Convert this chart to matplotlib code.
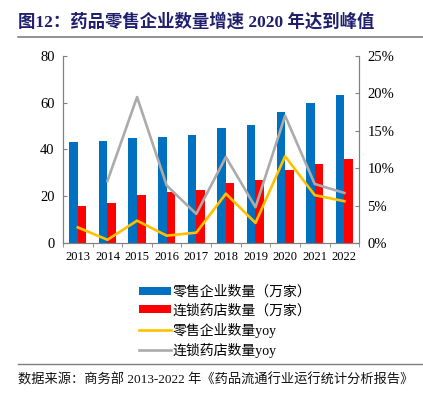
import numpy as np
import matplotlib
matplotlib.use('Agg')
import matplotlib.pyplot as plt
from matplotlib.patches import Patch
from matplotlib.lines import Line2D

plt.rcParams['font.family'] = ['Liberation Serif', 'Noto Sans CJK SC']

years = ['2013', '2014', '2015', '2016', '2017', '2018', '2019', '2020', '2021', '2022']
retail = [43.2, 43.6, 44.9, 45.3, 46.0, 49.0, 50.3, 56.1, 59.8, 63.1]       # 零售企业数量（万家）
chain = [15.8, 17.1, 20.5, 21.9, 22.8, 25.5, 26.8, 31.3, 33.8, 36.0]        # 连锁药店数量（万家）
retail_yoy = [2.1, 0.45, 3.0, 1.0, 1.4, 6.6, 2.7, 11.6, 6.4, 5.6]           # %
chain_yoy = [np.nan, 8.3, 19.5, 7.7, 3.9, 11.5, 4.8, 17.0, 7.9, 6.7]        # %

blue = '#0070C0'
red = '#FF0000'
yellow = '#FFC000'
grey = '#ABABAB'
spine_c = '#808080'

fig = plt.figure(figsize=(4.23, 3.96), dpi=100)
ax = fig.add_axes([0.149, 0.386, 0.700, 0.473])
ax2 = ax.twinx()

x = np.arange(len(years))
w = 0.29
ax.bar(x - w / 2, retail, width=w, color=blue, zorder=2)
ax.bar(x + w / 2, chain, width=w, color=red, zorder=2)

ax2.plot(x, retail_yoy, color=yellow, lw=1.9)
ax2.plot(x, chain_yoy, color=grey, lw=1.9)

ax.set_xlim(-0.5, len(years) - 0.5)
ax.set_ylim(0, 80)
ax.set_yticks([0, 20, 40, 60, 80])
ax2.set_ylim(0, 25)
ax2.set_yticks([0, 5, 10, 15, 20, 25])
ax2.set_yticklabels([f'{v}%' for v in [0, 5, 10, 15, 20, 25]])

ax.set_xticks(x)
ax.set_xticklabels(years)
ax.set_xticks(np.arange(-0.5, len(years), 1), minor=True)
ax.tick_params(axis='x', which='major', length=0, labelsize=9, pad=6)
ax.tick_params(axis='x', which='minor', length=3, direction='out', color=spine_c)
ax.tick_params(axis='y', length=3, direction='in', labelsize=10.5, color=spine_c, pad=6)
ax2.tick_params(axis='y', length=3, direction='in', labelsize=10.5, color=spine_c, pad=6)

for a in (ax, ax2):
    a.spines['top'].set_visible(False)
    for s in ('left', 'right', 'bottom'):
        a.spines[s].set_color(spine_c)

# 图例
handles = [Patch(facecolor=blue), Patch(facecolor=red),
           Line2D([], [], color=yellow, lw=1.9), Line2D([], [], color=grey, lw=1.9)]
labels = ['零售企业数量（万家）', '连锁药店数量（万家）', '零售企业数量yoy', '连锁药店数量yoy']
fig.legend(handles, labels, loc='upper left', bbox_to_anchor=(0.312, 0.297), frameon=False,
           fontsize=10, handlelength=2.3, handleheight=0.5, handletextpad=0.15,
           labelspacing=0.38, borderpad=0)

# 标题 / 来源
fig.text(0.043, 0.945, '图12：药品零售企业数量增速 2020 年达到峰值', fontsize=12.5,
         fontweight='bold', color='#1F1F6E', va='center')
fig.add_artist(Line2D([0.043, 1.0], [0.907, 0.907], color='#7f7f7f', lw=1.2))
fig.add_artist(Line2D([0.043, 1.0], [0.080, 0.080], color='#7f7f7f', lw=1.0))
fig.text(0.043, 0.040, '数据来源：商务部 2013-2022 年《药品流通行业运行统计分析报告》', fontsize=9.5,
         va='center', color='#111111')

fig.savefig('out.png', dpi=100)
